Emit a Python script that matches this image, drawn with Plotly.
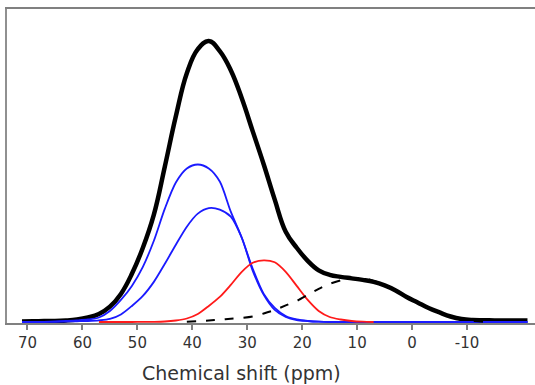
import plotly.graph_objects as go

# chemical shift grid (ppm)
ppm = [71, 69, 67, 65, 63, 61, 59, 57, 55, 53, 51, 49, 47, 45, 43, 41, 39, 37, 35, 33,
       31, 29, 27, 25, 23, 21, 19, 17, 15, 13, 11, 9, 7, 5, 3, 1, -1, -3, -5, -7,
       -9, -11, -13, -15, -17, -19, -21]

# total fitted spectrum (thick black)
total = [0.5, 0.7, 0.9, 1.0, 1.5, 2.5, 4.5, 8.0, 15.3, 28, 48, 74, 107, 155, 205, 248, 272, 280, 270, 251,
         223, 190, 157, 122, 90, 74, 61, 51.5, 47, 45, 43.5, 42, 40, 36.5, 31.5, 25, 19.5, 14, 9.5, 5.5,
         3.0, 2.0, 1.8, 1.6, 1.5, 1.5, 1.5]

# component 1 (blue, higher)
comp_blue1 = [0, 0, 0.2, 0.5, 1.0, 1.6, 2.5, 4.5, 11, 22, 36, 55, 81, 113, 139, 153, 157, 153, 140, 110,
              84, 53, 28, 14, 6, 2.5, 1.0, 0.3, 0, 0, 0, 0, 0, 0, 0, 0, 0, 0, 0, 0,
              0, 0, 0, 0, 0, 0, 0]

# component 2 (blue, lower)
comp_blue2 = [0, 0, 0, 0.2, 0.4, 0.7, 1.0, 1.6, 3.0, 7.5, 16, 26, 40, 58, 77, 95, 108, 113.5, 112, 105,
              84, 51, 27, 12, 5, 2.0, 1.0, 0.3, 0, 0, 0, 0, 0, 0, 0, 0, 0, 0, 0, 0,
              0, 0, 0, 0, 0, 0, 0]

# component 3 (red)
comp_red = [None, None, None, None, None, None, None, 0, 0, 0, 0, 0.1, 0.2, 0.5, 1.5, 3.5, 8, 16, 25, 37,
            50, 59, 61.5, 59.5, 50, 36, 22, 11, 5, 2.5, 1.0, 0.3, 0, None, None, None, None, None, None, None,
            None, None, None, None, None, None, None]

# component 4 (dashed black, broad)
comp_broad = [None, None, None, None, None, None, None, None, None, None, None, None, None, None, None, 0.3, 0.8, 1.5, 2.3, 3.2,
              4.0, 5.5, 8.5, 12, 16.5, 21, 27, 33, 38, 41.5, 43.5, 43.5, 41, 37, 31.5, 25, 19.5, 14, 9.5, 5.3,
              2.5, 1.0, 0.3, None, None, None, None]

tick_vals = [70, 60, 50, 40, 30, 20, 10, 0, -10]
tick_text = ["70", "60", "50", "40", "30", "20", "10", "0", "-10"]
x_title = "Chemical shift (ppm)"

fig = go.Figure()
fig.add_trace(go.Scatter(x=ppm, y=total, mode="lines",
                         line=dict(color="#000000", width=4.5, shape="spline", smoothing=1.2)))
fig.add_trace(go.Scatter(x=ppm, y=comp_blue1, mode="lines",
                         line=dict(color="#1a1aff", width=1.8, shape="spline", smoothing=0.8)))
fig.add_trace(go.Scatter(x=ppm, y=comp_blue2, mode="lines",
                         line=dict(color="#1a1aff", width=1.8, shape="spline", smoothing=0.8)))
fig.add_trace(go.Scatter(x=ppm, y=comp_red, mode="lines",
                         line=dict(color="#ff1a1a", width=1.8, shape="spline", smoothing=0.8)))
fig.add_trace(go.Scatter(x=ppm, y=comp_broad, mode="lines",
                         line=dict(color="#000000", width=2, dash="9px,10px", shape="spline", smoothing=0.8)))

fig.update_layout(
    width=535, height=385,
    margin=dict(l=7, r=0, t=9, b=62),
    paper_bgcolor="white", plot_bgcolor="white",
    showlegend=False,
    font=dict(family="DejaVu Sans", color="#333333"),
    xaxis=dict(range=[73.73, -22.37], tickmode="array", tickvals=tick_vals, ticktext=tick_text,
               ticks="outside", ticklen=5, tickwidth=1.5, tickcolor="#808080",
               showline=True, linecolor="#808080", linewidth=1.5, mirror=True,
               showgrid=False, zeroline=False,
               tickfont=dict(family="DejaVu Sans", size=15, color="#333333")),
    yaxis=dict(range=[-1, 312], showticklabels=False, ticks="", showgrid=False, zeroline=False,
               showline=True, linecolor="#909090", linewidth=1.5),
    annotations=[dict(text=x_title, xref="paper", yref="paper", x=0.4445, y=-0.159,
                      xanchor="center", yanchor="middle", showarrow=False,
                      font=dict(family="DejaVu Sans", size=19, color="#333333"))],
)

fig.write_html("out.html", config={"displayModeBar": False},
               post_script="document.body.style.margin='0px';")
